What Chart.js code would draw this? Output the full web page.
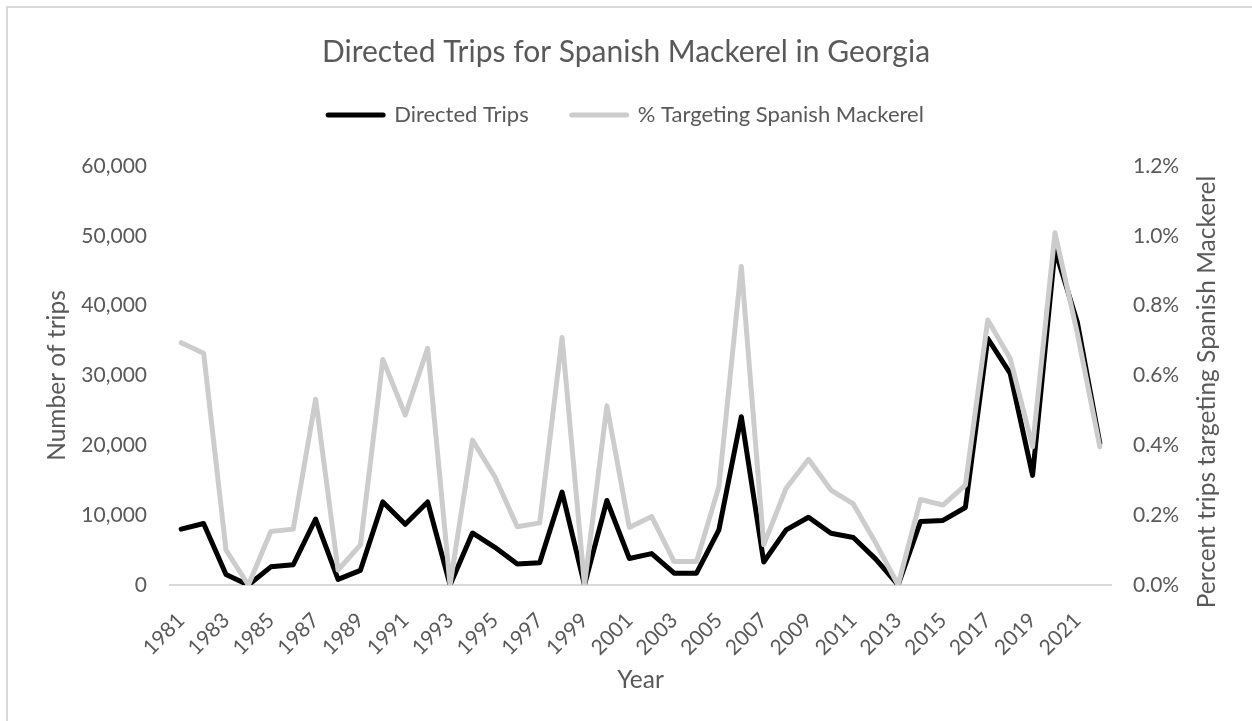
<!DOCTYPE html>
<html>
<head>
<meta charset="utf-8">
<script src="https://cdn.jsdelivr.net/npm/chart.js@4/dist/chart.umd.min.js"></script>
<style>
  html, body { margin: 0; padding: 0; background: #ffffff; }
  #wrap { position: relative; width: 1252px; height: 721px; overflow: hidden; }
  #frame { position: absolute; left: 6px; top: 6px; width: 1300px; height: 800px; border: 2px solid #d9d9d9; box-sizing: border-box; }
  #c { position: absolute; left: 0; top: 0; }
</style>
</head>
<body>
<div id="wrap">
  <div id="frame"></div>
  <canvas id="c" width="1252" height="721"></canvas>
</div>
<script>
// ---- data ----
const years = [
  '1981','1982','1983','1984','1985','1986','1987','1988','1989','1990',
  '1991','1992','1993','1994','1995','1996','1997','1998','1999','2000',
  '2001','2002','2003','2004','2005','2006','2007','2008','2009','2010',
  '2011','2012','2013','2014','2015','2016','2017','2018','2019','2020',
  '2021','2022'
];
const directedTrips = [
  8000, 8800, 1500, 0, 2600, 2900, 9450, 800, 2100, 11900,
  8700, 11900, 0, 7450, 5400, 3000, 3200, 13300, 0, 12100,
  3800, 4500, 1700, 1700, 7900, 24100, 3300, 7900, 9700, 7400,
  6800, 3700, 0, 9100, 9250, 11100, 35300, 30300, 15700, 48000,
  37600, 20300
];
const pctTargeting = [
  0.694, 0.664, 0.100, 0.000, 0.153, 0.160, 0.532, 0.043, 0.115, 0.646,
  0.487, 0.678, 0.000, 0.415, 0.310, 0.167, 0.178, 0.709, 0.000, 0.513,
  0.165, 0.196, 0.067, 0.067, 0.282, 0.912, 0.115, 0.277, 0.360, 0.272,
  0.232, 0.120, 0.000, 0.245, 0.229, 0.286, 0.759, 0.649, 0.396, 1.009,
  0.720, 0.396
];
const seriesNames = ['Directed Trips', '% Targeting Spanish Mackerel'];
const chartTitle = 'Directed Trips for Spanish Mackerel in Georgia';
const leftAxisTitle = 'Number of trips';
const rightAxisTitle = 'Percent trips targeting Spanish Mackerel';
const xAxisTitle = 'Year';

// ---- styles ----
const FONT = 'Lato';
const TXT = '#595959';
const AXIS_LINE = '#d9d9d9';

const rightTitlePlugin = {
  id: 'rightTitle',
  afterDraw(chart) {
    const ctx = chart.ctx;
    const s = chart.scales.y1;
    ctx.save();
    ctx.font = '24.5px ' + FONT;
    ctx.fillStyle = TXT;
    ctx.textAlign = 'center';
    ctx.textBaseline = 'middle';
    ctx.translate(s.left + 96, 392);
    ctx.rotate(-Math.PI / 2);
    ctx.fillText(rightAxisTitle, 0, 0);
    ctx.restore();
  }
};

new Chart(document.getElementById('c'), {
  type: 'line',
  data: {
    labels: years,
    datasets: [
      {
        label: seriesNames[0],
        data: directedTrips,
        yAxisID: 'y',
        borderColor: '#000000',
        backgroundColor: '#000000',
        borderWidth: 5,
        pointRadius: 0,
        pointStyle: 'line',
        borderJoinStyle: 'round',
        borderCapStyle: 'round',
        tension: 0,
        order: 1
      },
      {
        label: seriesNames[1],
        data: pctTargeting,
        yAxisID: 'y1',
        borderColor: '#cccccc',
        backgroundColor: '#cccccc',
        borderWidth: 5,
        pointRadius: 0,
        pointStyle: 'line',
        borderJoinStyle: 'round',
        borderCapStyle: 'round',
        tension: 0,
        order: 0
      }
    ]
  },
  options: {
    responsive: false,
    animation: false,
    devicePixelRatio: 1,
    layout: { padding: { top: 0, left: 0, right: 0, bottom: 0 } },
    plugins: {
      tooltip: { enabled: false },
      title: {
        display: true,
        text: chartTitle,
        color: TXT,
        font: { family: FONT, size: 30, weight: 'normal' },
        padding: { top: 34, bottom: 24 }
      },
      legend: {
        display: true,
        position: 'top',
        labels: {
          color: TXT,
          font: { family: FONT, size: 22 },
          usePointStyle: true,
          pointStyleWidth: 55,
          padding: 10,
          generateLabels(chart) {
            const items = Chart.defaults.plugins.legend.labels.generateLabels(chart);
            items.sort((a, b) => a.datasetIndex - b.datasetIndex);
            items.forEach((it, i) => {
              it.lineCap = 'round';
              if (i === 0) it.text = it.text + '\u2003\u2003';
            });
            return items;
          }
        }
      },
      subtitle: {
        display: true,
        text: ' ',
        weight: 500,
        font: { size: 10 },
        padding: { top: 0, bottom: 18 }
      }
    },
    scales: {
      x: {
        type: 'category',
        offset: true,
        grid: { display: false, drawTicks: false },
        border: { display: true, color: AXIS_LINE, width: 2 },
        ticks: {
          autoSkip: false,
          minRotation: 45,
          maxRotation: 45,
          padding: 23,
          color: TXT,
          font: { family: FONT, size: 21 },
          callback: function (value, index) { return index % 2 === 0 ? years[index] : ''; }
        },
        title: {
          display: true,
          text: xAxisTitle,
          color: TXT,
          font: { family: FONT, size: 24.5 },
          padding: { top: 0, bottom: 26 }
        },
        afterFit(scale) { scale.height = 136; }
      },
      y: {
        position: 'left',
        min: 0,
        max: 60000,
        grid: { display: false, drawTicks: false },
        border: { display: false },
        ticks: {
          stepSize: 10000,
          padding: 23,
          color: TXT,
          font: { family: FONT, size: 21 },
          callback: function (v) { return v.toLocaleString('en-US'); }
        },
        title: {
          display: true,
          text: leftAxisTitle,
          color: TXT,
          font: { family: FONT, size: 24.5 },
          padding: { top: 42, bottom: 0 }
        },
        afterFit(scale) { scale.width = 170; }
      },
      y1: {
        position: 'right',
        min: 0,
        max: 1.2,
        grid: { display: false, drawTicks: false },
        border: { display: false },
        ticks: {
          stepSize: 0.2,
          padding: 22,
          color: TXT,
          font: { family: FONT, size: 21 },
          callback: function (v) { return v.toFixed(1) + '%'; }
        },
        afterFit(scale) { scale.width = 141; }
      }
    }
  },
  plugins: [rightTitlePlugin]
});
</script>
</body>
</html>
